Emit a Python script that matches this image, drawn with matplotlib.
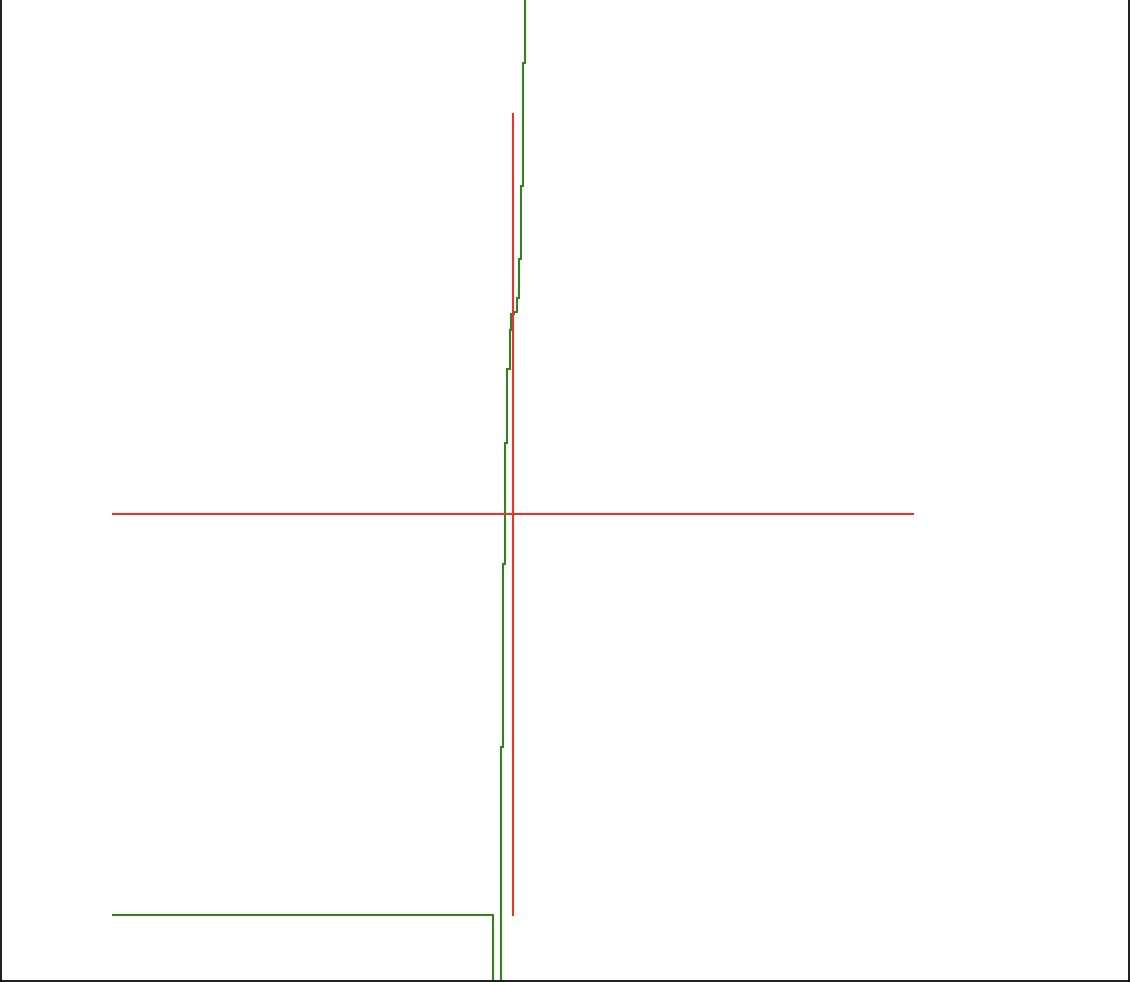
import numpy as np
import matplotlib
matplotlib.use('Agg')
import matplotlib.pyplot as plt

# reference cross (red)
cross_h_x = [-4.0, 4.0]
cross_h_y = [0.0, 0.0]
cross_v_x = [0.0, 0.0]
cross_v_y = [-4.0, 4.0]

# step path (green), goes below the axis between the two low verticals
step_x = [-4.0, -0.203, -0.203, -0.12, -0.12, -0.10, -0.10, -0.08, -0.08, -0.06,
          -0.06, -0.035, -0.035, -0.02, -0.02, 0.01, 0.01, 0.04, 0.04, 0.06,
          0.06, 0.08, 0.08, 0.10, 0.10, 0.12, 0.12]
step_y = [-4.0, -4.0, -6.0, -6.0, -2.325, -2.325, -0.50, -0.50, 0.715, 0.715,
          1.455, 1.455, 1.845, 1.845, 2.005, 2.005, 2.025, 2.025, 2.16, 2.16,
          2.545, 2.545, 3.275, 3.275, 4.505, 4.505, 5.5]

fig = plt.figure(figsize=(11.3, 9.82), dpi=100)
ax = fig.add_axes([0.0005, 0.0015, 0.9982, 1.0])

ax.plot(step_x, step_y, color='#37801f', lw=1.5, solid_joinstyle='miter')
ax.plot(cross_h_x, cross_h_y, color='#e6352a', lw=1.5)
ax.plot(cross_v_x, cross_v_y, color='#e6352a', lw=1.5)

ax.set_xlim(-5.125, 6.155)
ax.set_ylim(-4.655, 5.15)
ax.set_xticks([])
ax.set_yticks([])
for s in ax.spines.values():
    s.set_linewidth(1.3)
    s.set_color('#0a0a0a')
ax.spines['top'].set_visible(False)

plt.savefig('out.png', dpi=100)
